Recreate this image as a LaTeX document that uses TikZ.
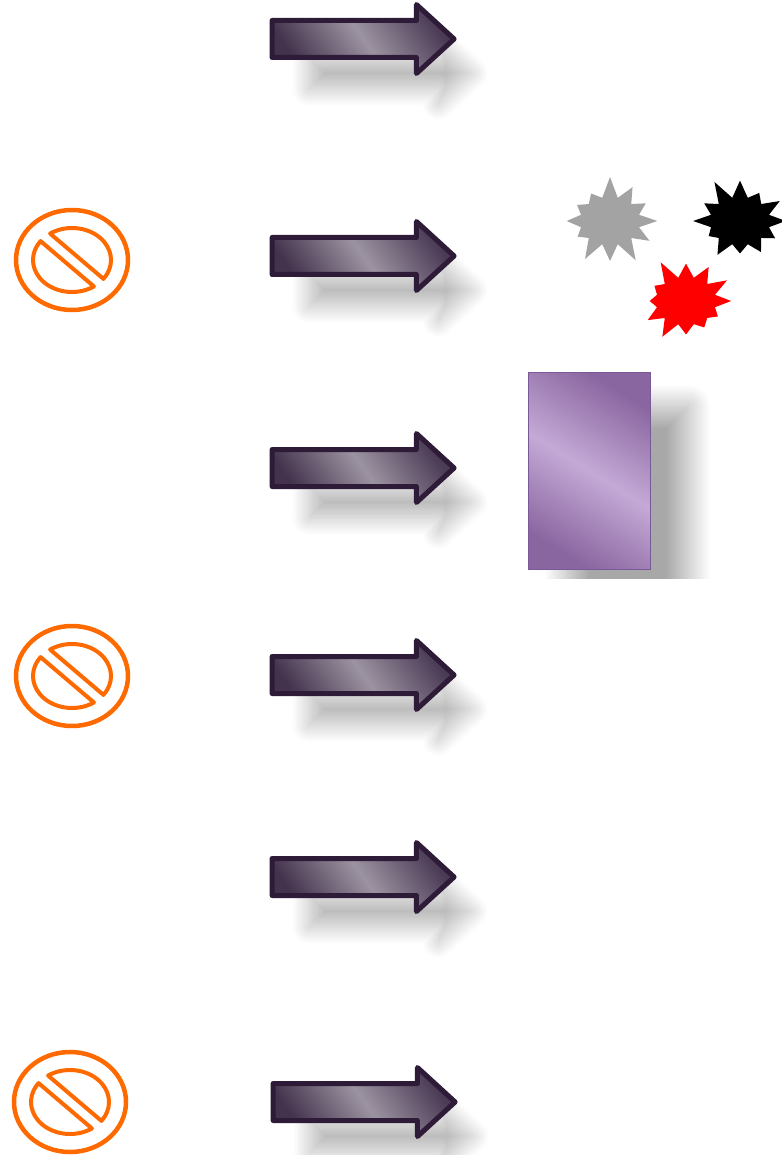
\documentclass[tikz,border=0pt]{standalone}
\usepackage{tikz}
\usetikzlibrary{shapes.arrows,shapes.symbols,shadows.blur}

\definecolor{arrowline}{HTML}{2D1B38}
\definecolor{arrowdark}{HTML}{4A3A55}
\definecolor{arrowlight}{HTML}{9C93A1}
\definecolor{arrowend}{HTML}{43334D}
\definecolor{stoporange}{HTML}{FF6A00}
\definecolor{burstgray}{HTML}{A3A3A3}
\definecolor{panelline}{HTML}{7A5998}
\definecolor{paneldark}{HTML}{8A66A0}
\definecolor{panellight}{HTML}{C4A9D6}

\tikzset{
  bigarrow/.style={single arrow, draw=arrowline, line width=5pt, line join=round,
    minimum height=182pt, inner xsep=0pt, inner ysep=16pt, single arrow head extend=16pt,
    single arrow tip angle=85,
    left color=arrowdark, right color=arrowend, middle color=arrowlight, shading angle=-55,
    blur shadow={shadow xshift=30pt, shadow yshift=-38pt, shadow scale=0.9,
      shadow blur radius=18pt, shadow blur steps=30, shadow opacity=26}},
  burst/.style={starburst, draw=none, starburst points=12, starburst point height=22pt,
    minimum width=104pt, minimum height=92pt, inner sep=0pt},
  nosign/.style={draw=stoporange, line width=4.5pt},
  nohalf/.style={draw=stoporange, line width=4pt, line join=round}
}

\begin{document}
\begin{tikzpicture}[x=1pt,y=-1pt]
\useasboundingbox (0,0) rectangle (781,1155);

% arrows
\node[bigarrow] (arrowA) at (353,39) {};
\node[bigarrow] (arrowB) at (353,256) {};
\node[bigarrow] (arrowC) at (353,468) {};
\node[bigarrow] (arrowD) at (353,675) {};
\node[bigarrow] (arrowE) at (353,877) {};
\node[bigarrow] (arrowF) at (354,1102) {};

% no entry signs
\foreach \cx/\cy in {72/260, 72/676, 70/1102} {
  \draw[nosign] (\cx,\cy) ellipse [x radius=56, y radius=50];
  \begin{scope}[shift={(\cx,\cy)}, xscale=39, yscale=32, rotate=-46]
    \draw[nohalf] (9.8:1) arc[start angle=9.8, end angle=170.2, radius=1] -- cycle;
    \draw[nohalf] (189.8:1) arc[start angle=189.8, end angle=350.2, radius=1] -- cycle;
  \end{scope}
}

% bursts
\node[burst, fill=burstgray, random starburst=7] (burstA) at (610,221) {};
\node[burst, fill=black, random starburst=11] (burstB) at (740,221) {};
\node[burst, fill=red, random starburst=5] (burstC) at (686,301) {};

% panel
\begin{scope}
\clip (500,360) rectangle (781,578);
\node[draw=panelline, line width=1pt, minimum width=122pt, minimum height=197pt, inner sep=0pt,
  left color=paneldark, right color=paneldark, middle color=panellight, shading angle=-32,
  blur shadow={shadow xshift=38pt, shadow yshift=-34pt, shadow blur radius=22pt,
    shadow blur steps=30, shadow opacity=34}]
  (panel) at (589.5,471) {};
\end{scope}

\end{tikzpicture}
\end{document}
